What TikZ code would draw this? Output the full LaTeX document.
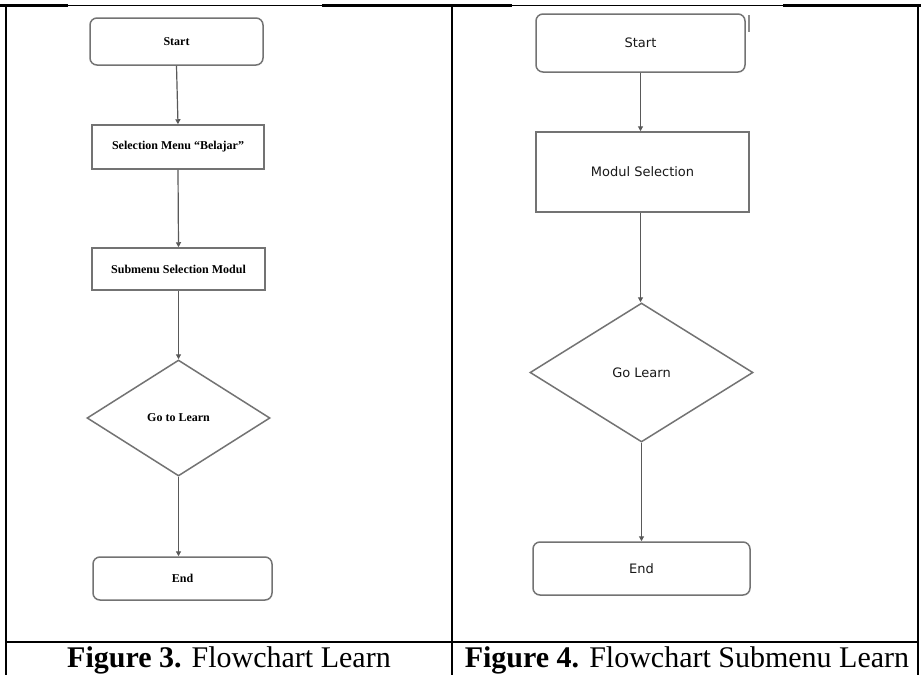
\documentclass[tikz,border=0pt]{standalone}
\usepackage{fontspec}
\setmainfont{Liberation Serif}
\newfontfamily\rsans{DejaVu Sans}
\usetikzlibrary{shapes.geometric,arrows.meta}
\tikzset{
  tline/.style={line width=2.4pt, black},
  thinline/.style={line width=1pt, black},
  lbox/.style={draw=black!55, line width=1.5pt, fill=white, inner sep=0pt,
     font=\fontsize{12}{14}\selectfont\bfseries},
  rbox/.style={draw=black!55, line width=1.5pt, fill=white, inner sep=0pt,
     font=\rsans\fontsize{13}{15}\selectfont, text=black!90},
  rnd/.style={rounded corners=7pt},
  dia/.style={diamond, aspect=1.6},
  flow/.style={draw=black!65, line width=1.2pt, -{Triangle[length=5pt,width=5pt]}},
  captext/.style={font=\fontsize{30}{34}\selectfont, inner sep=0pt, anchor=base}
}
\begin{document}
\begin{tikzpicture}[x=1pt,y=-1pt]
\useasboundingbox (0,0) rectangle (921,675);
\fill[white] (0,0) rectangle (921,675);
% table lines
\draw[tline] (0,5.5) -- (68,5.5);
\draw[thinline] (68,5.5) -- (322,5.5);
\draw[tline] (322,5.5) -- (512,5.5);
\draw[thinline] (512,5.5) -- (783,5.5);
\draw[tline] (783,5.5) -- (921,5.5);
\draw[tline] (6,5) -- (6,675);
\draw[tline] (452,5) -- (452,675);
\draw[tline] (918,5) -- (918,675);
\draw[tline] (6,642) -- (918,642);
% left flowchart
\node[lbox,rnd,minimum width=173pt,minimum height=47pt] (ls) at (176.5,41.5) {Start};
\node[lbox,minimum width=172pt,minimum height=44pt] (lsel) at (178,147) {Selection Menu “Belajar”};
\node[lbox,minimum width=173pt,minimum height=42pt] (lsub) at (178.5,269) {Submenu Selection Modul};
\node[lbox,dia,minimum width=183pt,minimum height=116pt] (ldia) at (178.5,418) {Go to Learn};
\node[lbox,rnd,minimum width=179pt,minimum height=43pt] (lend) at (182.5,578.5) {End};
\draw[flow] (ls.south) -- (lsel.north);
\draw[flow] (lsel.south) -- (lsub.north);
\draw[flow] (lsub.south) -- (ldia.north);
\draw[flow] (ldia.south) -- (ldia.south |- lend.north);
% right flowchart
\node[rbox,rnd,minimum width=209pt,minimum height=58pt] (rs) at (640.5,43) {Start};
\draw[black!45, line width=2pt] (749,15) -- (749,32);
\node[rbox,minimum width=213pt,minimum height=80pt] (rmod) at (642.5,172) {Modul Selection};
\node[rbox,dia,minimum width=223pt,minimum height=139pt] (rdia) at (641.5,372.5) {Go Learn};
\node[rbox,rnd,minimum width=217pt,minimum height=53pt] (rend) at (641.5,568.5) {End};
\draw[flow] (rs.south) -- (rs.south |- rmod.north);
\draw[flow] (rs.south |- rmod.south) -- (rs.south |- rdia.north);
\draw[flow] (rdia.south) -- (rdia.south |- rend.north);
% captions
\node[captext] (c3) at (229,667) {\textbf{Figure 3.} Flowchart Learn};
\node[captext] (c4) at (687,667) {\textbf{Figure 4.} Flowchart Submenu Learn};
\end{tikzpicture}
\end{document}
